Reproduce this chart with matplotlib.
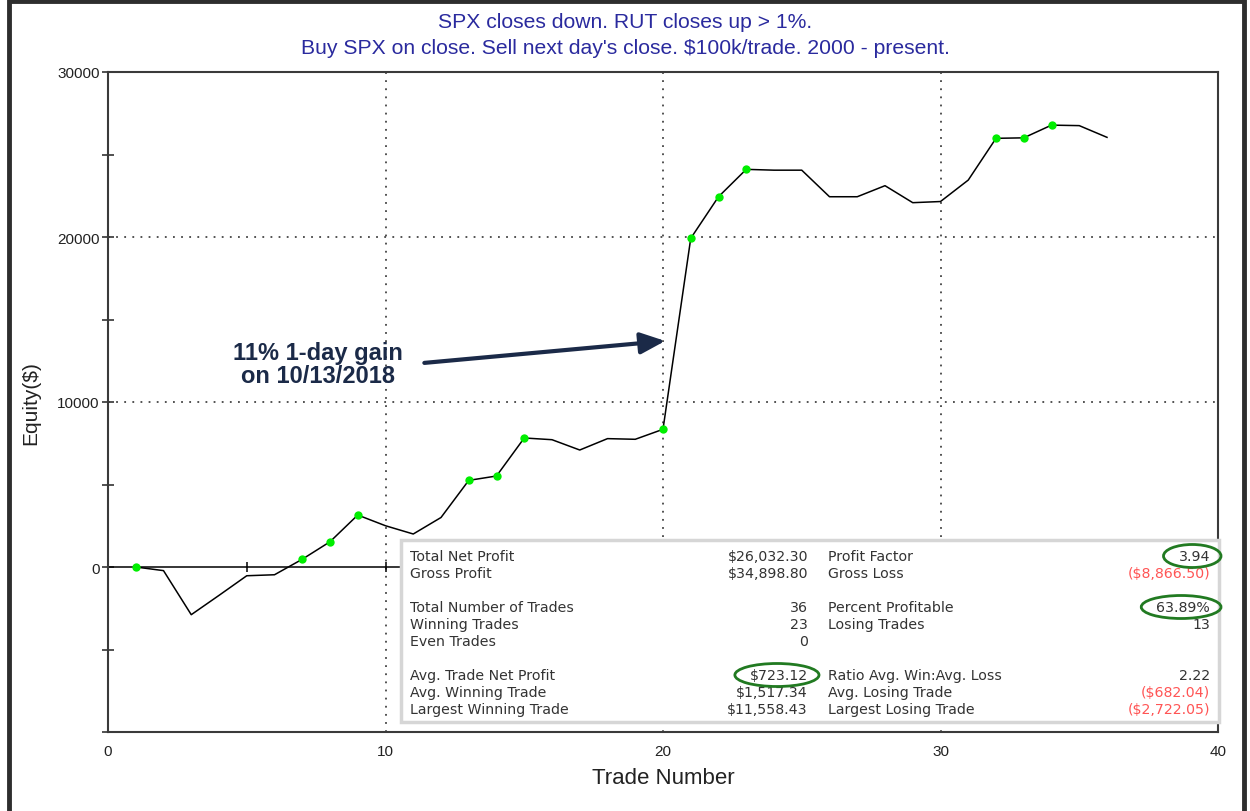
import numpy as np
import matplotlib
matplotlib.use("Agg")
import matplotlib.pyplot as plt
from matplotlib.patches import Rectangle, Ellipse

# equity curve (trade number -> cumulative equity in $)
trades = np.arange(1, 37)
equity = [0, -220, -2890, -1720, -530, -470, 470, 1530, 3150, 2500,
          2000, 3000, 5250, 5515, 7820, 7715, 7090, 7780, 7740, 8345,
          19920, 22440, 24100, 24050, 24050, 22440, 22440, 23110, 22080, 22150,
          23450, 25980, 26010, 26780, 26750, 26040]

title_lines = ["SPX closes down. RUT closes up > 1%.",
               "Buy SPX on close. Sell next day's close. $100k/trade. 2000 - present."]
note_text = "11% 1-day gain\non 10/13/2018"

left_labels = ["Total Net Profit", "Gross Profit", "",
               "Total Number of Trades", "Winning Trades", "Even Trades", "",
               "Avg. Trade Net Profit", "Avg. Winning Trade", "Largest Winning Trade"]
left_values = ["$26,032.30", "$34,898.80", "",
               "36", "23", "0", "",
               "$723.12", "$1,517.34", "$11,558.43"]
right_labels = ["Profit Factor", "Gross Loss", "",
                "Percent Profitable", "Losing Trades", "", "",
                "Ratio Avg. Win:Avg. Loss", "Avg. Losing Trade", "Largest Losing Trade"]
right_values = ["3.94", "($8,866.50)", "",
                "63.89%", "13", "", "",
                "2.22", "($682.04)", "($2,722.05)"]
circled = ["$723.12", "3.94", "63.89%"]

W, H = 1250, 812
fig = plt.figure(figsize=(W / 100, H / 100), dpi=100)
sans = ["Liberation Sans", "DejaVu Sans"]


def fx(px):
    return px / W


def fy(py):
    return 1 - py / H


ax = fig.add_axes([fx(108), fy(733), fx(1218) - fx(108), fy(73) - fy(733)])
ax.set_xlim(0, 40)
ax.set_ylim(-10000, 30000)

eq = np.array(equity, dtype=float)
prev_max = np.concatenate([[-np.inf], np.maximum.accumulate(eq)[:-1]])
new_high = eq > prev_max

ax.axhline(0, color="black", lw=1.1, zorder=2)
ax.plot(trades, eq, color="black", lw=1.1, zorder=3)
ax.plot(trades[new_high], eq[new_high], "o", color="#00ee00", ms=6, mec="none", zorder=4)

# ticks on the zero line
ax.plot(np.arange(5, 40, 5), np.zeros(7), "|", color="black", ms=7, mew=1.1, zorder=2)

ax.set_xticks([0, 10, 20, 30, 40])
ax.set_yticks([-10000, 0, 10000, 20000, 30000])
ax.set_yticklabels(["", "0", "10000", "20000", "30000"])
ax.set_yticks(np.arange(-5000, 30000, 10000), minor=True)
ax.tick_params(axis="y", which="both", direction="inout", length=8, width=1.2,
               labelsize=11, colors="#333333", labelcolor="#222222", pad=2)
ax.tick_params(axis="x", which="both", length=0, labelsize=11, labelcolor="#222222", pad=9)
for lab in ax.get_xticklabels() + ax.get_yticklabels():
    lab.set_family(sans)

for v in [10, 20, 30]:
    ax.axvline(v, color="#444444", lw=1.3, ls=(0, (1, 3.5)), zorder=1)
for v in [10000, 20000]:
    ax.axhline(v, color="#444444", lw=1.3, ls=(0, (1, 3.5)), zorder=1)

for s in ax.spines.values():
    s.set_color("#3a3a3a")
    s.set_linewidth(1.5)
    s.set_zorder(10)

ax.set_xlabel("Trade Number", fontsize=16, family=sans, color="#222222", labelpad=6)
ax.set_ylabel("Equity($)", fontsize=15, family=sans, color="#222222", labelpad=12)

fig.text(0.5, fy(22), title_lines[0], ha="center", va="center", fontsize=15.2,
         color="#2a2a9e", family=sans)
fig.text(0.5, fy(48), title_lines[1], ha="center", va="center", fontsize=15.2,
         color="#2a2a9e", family=sans)

# annotation with arrow
ax.text(7.57, 12300, note_text, ha="center", va="center", fontsize=17, fontweight="bold",
        color="#1b2a48", family=sans, linespacing=1.05)
ax.annotate("", xy=(20.08, 13700), xytext=(11.4, 12370),
            arrowprops=dict(arrowstyle="-|>,head_length=1.5,head_width=0.65",
                            lw=3, color="#1b2a48", shrinkA=0, shrinkB=0))

# statistics box
fig.patches.append(Rectangle((fx(401), fy(723)), fx(1219) - fx(401), fy(541) - fy(723),
                             transform=fig.transFigure, facecolor="white",
                             edgecolor="#d6d6d6", lw=2.5, zorder=5))
row_y0, row_dy = 557, 17.0
stat_font = dict(fontsize=10.2, family=["DejaVu Sans"], va="center", zorder=6)
to_circle = []
for i in range(len(left_labels)):
    y = fy(row_y0 + i * row_dy)
    fig.text(fx(410), y, left_labels[i], ha="left", color="#333333", **stat_font)
    t1 = fig.text(fx(808), y, left_values[i], ha="right", color="#333333", **stat_font)
    fig.text(fx(828), y, right_labels[i], ha="left", color="#333333", **stat_font)
    col = "#ff5555" if right_values[i].startswith("(") else "#333333"
    t2 = fig.text(fx(1210), y, right_values[i], ha="right", color=col, **stat_font)
    for t in (t1, t2):
        if t.get_text() in circled:
            to_circle.append(t)

# green circles around highlighted numbers
fig.canvas.draw()
renderer = fig.canvas.get_renderer()
for t in to_circle:
    bb = t.get_window_extent(renderer)
    cx = (bb.x0 + bb.x1) / 2 - 2
    cy = (bb.y0 + bb.y1) / 2
    fig.patches.append(Ellipse((cx / W, cy / H), (bb.width + 26) / W, 23 / H,
                               transform=fig.transFigure, fill=False,
                               edgecolor="#217a21", lw=2, zorder=7))

# outer frame of the screenshot
fig.patches.append(Rectangle((fx(9), fy(812) - 0.01), fx(1244) - fx(9), fy(2) - fy(812) + 0.01,
                             transform=fig.transFigure, fill=False,
                             edgecolor="#2e2e2e", lw=3.5, zorder=0))

fig.savefig("out.png", dpi=100)
